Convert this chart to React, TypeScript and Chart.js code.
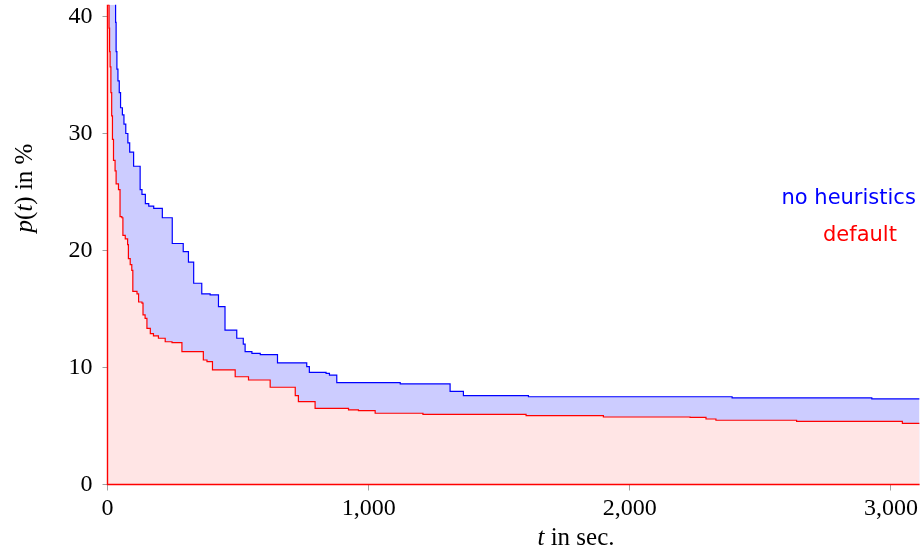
import React, { useEffect, useRef } from "react";
import { Chart, registerables } from "chart.js";

Chart.register(...registerables);

// Times (s) at which each step begins, and p(t) in % held from that time on
const tBlue = [0, 27, 31, 33, 36, 40, 45, 50, 57, 63, 70, 78, 85, 100, 125, 132, 145, 158, 177, 210, 248, 290, 310, 330, 361, 393, 425, 450, 495, 520, 527, 553, 585, 651, 763, 773, 837, 850, 878, 1121, 1312, 1363, 1612, 2392, 2927, 3110];
const pBlue = [100, 42, 39.5, 37, 35.5, 34.5, 33.5, 32.2, 31.6, 30.8, 30, 29.2, 28.4, 27.2, 25.2, 24.8, 24, 23.8, 23.6, 22.8, 20.6, 19.9, 19.0, 17.2, 16.3, 16.2, 15.2, 13.2, 12.5, 12.0, 11.35, 11.2, 11.1, 10.4, 10.07, 9.59, 9.5, 9.34, 8.7, 8.6, 7.96, 7.6, 7.5, 7.4, 7.31, 7.31];

const tRed = [0, 4, 6, 8, 10, 13, 16, 19, 23, 29, 33, 42, 48, 55, 59, 68, 77, 80, 87, 93, 97, 113, 119, 132, 136, 144, 151, 164, 176, 195, 221, 247, 285, 367, 381, 402, 489, 540, 623, 719, 731, 795, 923, 961, 1025, 1208, 1603, 1899, 2231, 2292, 2330, 2639, 3044, 3110];
const pRed = [100, 41, 39, 37, 35.7, 33.5, 31.5, 29.5, 27.7, 26.8, 25.7, 25.2, 22.9, 22.8, 21.3, 21.0, 20.5, 19.3, 18.8, 18.3, 16.5, 16.3, 15.6, 15.5, 14.5, 14.2, 13.35, 12.9, 12.7, 12.5, 12.2, 12.12, 11.35, 10.64, 10.5, 9.79, 9.21, 8.93, 8.31, 7.59, 7.08, 6.51, 6.37, 6.31, 6.09, 6.0, 5.88, 5.77, 5.73, 5.6, 5.49, 5.4, 5.23, 5.23];

const xTicks = [0, 1000, 2000, 3000];
const yTicks = [0, 10, 20, 30, 40];
const seriesNames = ["no heuristics", "default"];

const X_MAX = 3110;
const Y_MAX = 41;

const textPlugin = {
  id: "texts",
  afterDraw(chart: any) {
    const ctx = chart.ctx;
    const area = chart.chartArea;
    ctx.save();
    // red edges of the "default" area (left and bottom)
    ctx.strokeStyle = "#ff0000";
    ctx.lineWidth = 1.4;
    ctx.beginPath();
    ctx.moveTo(area.left, area.top);
    ctx.lineTo(area.left, area.bottom);
    ctx.lineTo(area.right, area.bottom);
    ctx.stroke();

    const serif = "'Liberation Serif', serif";
    ctx.fillStyle = "#000";
    ctx.textBaseline = "alphabetic";
    ctx.textAlign = "left";
    // x axis title
    ctx.font = `italic 25px ${serif}`;
    const tW = ctx.measureText("t").width;
    ctx.font = `25px ${serif}`;
    const rest = " in sec.";
    const rW = ctx.measureText(rest).width;
    const x0 = 576 - (tW + rW) / 2;
    ctx.font = `italic 25px ${serif}`;
    ctx.fillText("t", x0, 545);
    ctx.font = `25px ${serif}`;
    ctx.fillText(rest, x0 + tW, 545);

    // y axis title
    ctx.save();
    ctx.translate(31.5, 188);
    ctx.rotate(-Math.PI / 2);
    const parts: [string, boolean][] = [["p", true], ["(", false], ["t", true], [") in %", false]];
    let total = 0;
    for (const [s, it] of parts) {
      ctx.font = `${it ? "italic " : ""}25px ${serif}`;
      total += ctx.measureText(s).width;
    }
    let px = -total / 2;
    for (const [s, it] of parts) {
      ctx.font = `${it ? "italic " : ""}25px ${serif}`;
      ctx.fillText(s, px, 0);
      px += ctx.measureText(s).width;
    }
    ctx.restore();

    // legend texts
    ctx.font = "21px 'DejaVu Sans', sans-serif";
    ctx.fillStyle = "#0000ff";
    ctx.fillText(seriesNames[0], 781.5, 203.5);
    ctx.fillStyle = "#ff0000";
    ctx.fillText(seriesNames[1], 823, 240.5);
    ctx.restore();
  },
};

export default function App() {
  const ref = useRef<HTMLCanvasElement>(null);
  useEffect(() => {
    if (!ref.current) return;
    const tickFont = { family: "'Liberation Serif', serif", size: 24 };
    const chart = new Chart(ref.current, {
      type: "line",
      data: {
        datasets: [
          {
            label: seriesNames[1],
            data: tRed.map((t, i) => ({ x: t, y: pRed[i] })),
            borderColor: "#ff0000",
            backgroundColor: "rgb(255,229,229)",
            borderWidth: 1.2,
            pointRadius: 0,
            stepped: "before",
            fill: "origin",
          },
          {
            label: seriesNames[0],
            data: tBlue.map((t, i) => ({ x: t, y: pBlue[i] })),
            borderColor: "#0000ff",
            backgroundColor: "rgb(204,204,255)",
            borderWidth: 1.2,
            pointRadius: 0,
            stepped: "before",
            fill: "origin",
          },
        ],
      },
      options: {
        animation: false,
        responsive: false,
        events: [],
        layout: { padding: { top: 4.8, right: 2.4, left: 0, bottom: 0 } },
        plugins: { legend: { display: false }, tooltip: { enabled: false } },
        scales: {
          x: {
            type: "linear",
            min: 0,
            max: X_MAX,
            z: 1,
            afterBuildTicks: (s: any) => {
              s.ticks = xTicks.map((v) => ({ value: v }));
            },
            afterFit: (s: any) => {
              s.height = 65.5;
              s.paddingLeft = 0;
              s.paddingRight = 0;
            },
            grid: { drawOnChartArea: false, drawTicks: true, tickLength: 6, color: "#a0a0a0" },
            border: { display: false },
            ticks: { font: tickFont, color: "#000", padding: 4, maxRotation: 0 },
          },
          y: {
            type: "linear",
            min: 0,
            max: Y_MAX,
            z: 1,
            afterBuildTicks: (s: any) => {
              s.ticks = yTicks.map((v) => ({ value: v }));
            },
            afterFit: (s: any) => {
              s.width = 107.5;
              s.paddingTop = 0;
              s.paddingBottom = 0;
            },
            grid: { drawOnChartArea: false, drawTicks: true, tickLength: 5, color: "#a0a0a0" },
            border: { display: false },
            ticks: { font: tickFont, color: "#000", padding: 10 },
          },
        },
      },
      plugins: [textPlugin],
    });
    return () => chart.destroy();
  }, []);
  return (
    <div style={{ position: "fixed", left: 0, top: 0, width: 922, height: 550, background: "#fff" }}>
      <canvas ref={ref} width={922} height={550} style={{ display: "block" }} />
    </div>
  );
}
